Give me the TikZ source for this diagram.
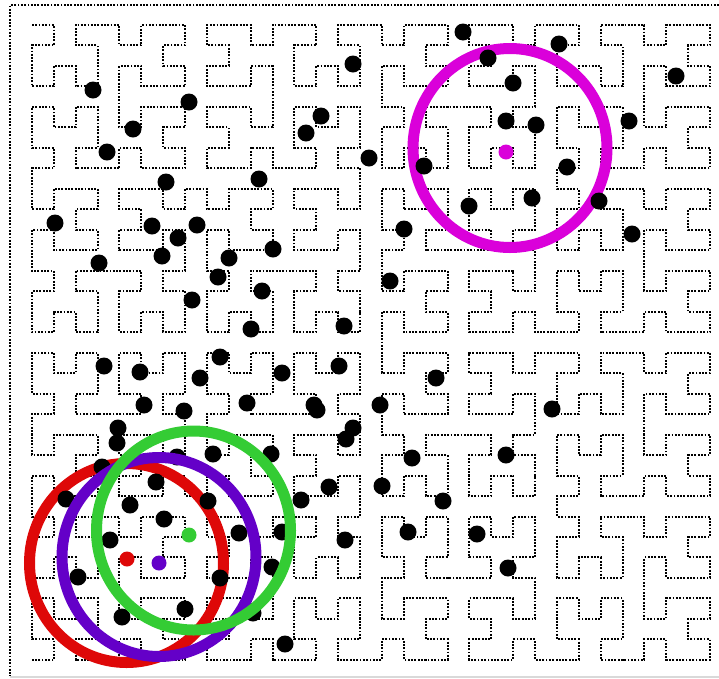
\documentclass[tikz,border=0pt]{standalone}
\newcount\hlx \newcount\hly \newcount\hld
\gdef\hpath{(32,25)}
\def\hturnL{\global\advance\hld by 1 \ifnum\hld>3 \global\advance\hld by -4 \fi}
\def\hturnR{\global\advance\hld by -1 \ifnum\hld<0 \global\advance\hld by 4 \fi}
\def\hfwd{\ifcase\hld \global\advance\hlx by 1 \or \global\advance\hly by 1 \or \global\advance\hlx by -1 \or \global\advance\hly by -1 \fi
  \xdef\hpath{\hpath -- ({32+21.87*\the\hly},{25+20.48*\the\hlx})}}
\def\hA#1{\ifnum#1>0 \hturnL\hB{\the\numexpr#1-1\relax}\hfwd\hturnR\hA{\the\numexpr#1-1\relax}\hfwd\hA{\the\numexpr#1-1\relax}\hturnR\hfwd\hB{\the\numexpr#1-1\relax}\hturnL\fi}
\def\hB#1{\ifnum#1>0 \hturnR\hA{\the\numexpr#1-1\relax}\hfwd\hturnL\hB{\the\numexpr#1-1\relax}\hfwd\hB{\the\numexpr#1-1\relax}\hturnL\hfwd\hA{\the\numexpr#1-1\relax}\hturnR\fi}
\hA{5}
\definecolor{cmag}{RGB}{218,0,218}
\definecolor{cred}{RGB}{222,8,8}
\definecolor{cpur}{RGB}{100,0,200}
\definecolor{cgrn}{RGB}{52,204,52}
\tikzset{
  hcurve/.style={black, line width=2pt, dash pattern=on 1.8pt off 1.5pt},
  ring/.style={line width=11pt},
  bdot/.style={fill=black},
}
\begin{document}
\begin{tikzpicture}[x=1pt,y=-1pt]
\useasboundingbox (0,0) rectangle (719,678);
\fill[white] (0,0) rectangle (719,678);
% border
\draw[hcurve] (719,5) -- (10,5) -- (10,676);
\draw[gray!30, line width=1.5pt] (10,677) -- (719,677);
% Hilbert curve
\edef\hcmd{\noexpand\draw[hcurve] \hpath;}\hcmd
% magenta and red rings
\draw[ring, cmag] (510,148) ellipse[x radius=97pt, y radius=99.5pt];
\draw[ring, cred] (126.5,563) ellipse[x radius=97pt, y radius=99.5pt];
% black points
\foreach \p in {(93,90),(189,102),(133,129),(107,152),(166,182),(55,223),(152,226),(197,225),(178,238),(162,256),(99,263),(229,258),(273,249),(218,277),(262,291),(192,300),(251,329),(259,179),
(353,64),(463,32),(488,58),(559,44),(676,76),(513,83),(321,116),(306,133),(369,158),(424,166),(506,121),(536,125),(629,121),(567,167),(532,198),(469,206),(599,201),(632,234),(404,229),(390,281),
(344,326),(104,366),(140,372),(220,357),(200,378),(282,373),(339,366),(436,378),(144,405),(184,411),(247,403),(314,405),(317,410),(380,405),(552,409),(118,428),(117,443),(353,428),(346,439),
(213,454),(271,454),(177,457),(412,458),(506,455),(102,467),(156,482),(66,499),(130,505),(208,501),(301,500),(329,487),(382,486),(443,501),(164,519),(239,533),(110,540),(282,532),(345,540),(408,532),(477,534),(78,577),(220,578),(272,567),(508,568),(185,609),(122,617),(253,613),(285,644)}
  \fill[bdot] \p circle[radius=8.5pt];
% purple and green rings
\draw[ring, cpur] (159,557) ellipse[x radius=97pt, y radius=99.5pt];
\draw[ring, cgrn] (193.5,530.5) ellipse[x radius=97pt, y radius=99.5pt];
% centres
\fill[cmag] (506,152) circle[radius=7.5pt];
\fill[cred] (127,559) circle[radius=7.5pt];
\fill[cpur] (159,563) circle[radius=7.5pt];
\fill[cgrn] (189,535) circle[radius=7.5pt];
\end{tikzpicture}
\end{document}
